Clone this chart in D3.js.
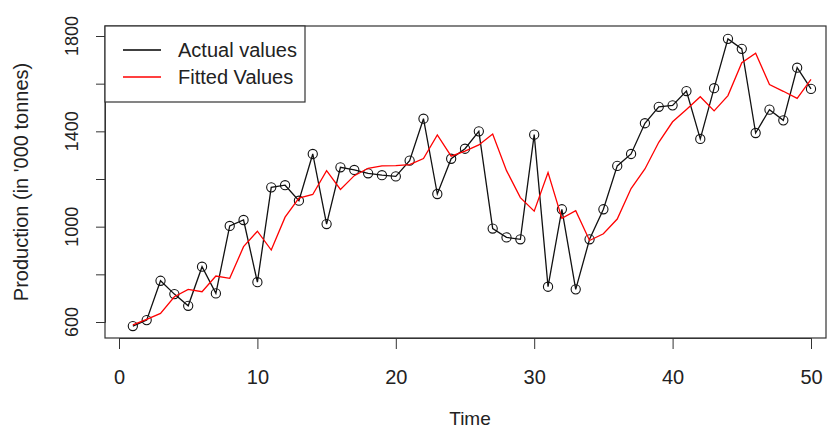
<!DOCTYPE html>
<html>
<head>
<meta charset="utf-8">
<script src="https://cdn.jsdelivr.net/npm/d3@7"></script>
<style>
  body { margin: 0; background: #fff; }
  text { font-family: "Liberation Sans", Arial, sans-serif; fill: #222; }
</style>
</head>
<body>
<svg id="chart" width="830" height="431"></svg>
<script>
// observed production, t = 1..50
const actual = [583, 608, 773, 717, 668, 832, 720, 1003, 1028, 767,
  1165, 1174, 1109, 1305, 1011, 1249, 1238, 1224, 1216, 1211,
  1277, 1453, 1137, 1285, 1327, 1400, 992, 955, 947, 1386,
  748, 1073, 737, 947, 1073, 1255, 1305, 1434, 1503, 1509,
  1569, 1368, 1581, 1788, 1746, 1393, 1491, 1446, 1667, 1578]

// fitted values
const fitted = [588, 611, 636, 706, 737, 727, 793, 783, 916, 981,
  902, 1040, 1120, 1135, 1235, 1156, 1214, 1245, 1255, 1256,
  1260, 1286, 1385, 1296, 1317, 1343, 1389, 1235, 1122, 1065,
  1227, 1035, 1067, 942, 970, 1032, 1160, 1242, 1354, 1440,
  1492, 1545, 1486, 1550, 1688, 1728, 1596, 1568, 1538, 1618]

const xTicks = [0, 10, 20, 30, 40, 50]
const yTicks = [600, 800, 1000, 1200, 1400, 1600, 1800]
const yLabels = [600, 1000, 1400, 1800]
const legendItems = [
  {name: "Actual values", color: "#000"},
  {name: "Fitted Values", color: "#ff0000"}
]

let svg = d3.select('#chart')

const box = {left: 105, right: 826, top: 26, bottom: 338}

let x = d3.scaleLinear()
  .domain([0, 50])
  .range([119, 811])

let y = d3.scaleLinear()
  .domain([600, 1800])
  .range([322, 36])

let line = d3.line()
  .x(d => x(d.t))
  .y(d => y(d.v))

// plot box
svg.append("rect")
  .attr("x", box.left)
  .attr("y", box.top)
  .attr("width", box.right - box.left)
  .attr("height", box.bottom - box.top)
  .attr("fill", "none")
  .attr("stroke", "#333")
  .attr("stroke-width", 1.2)

// x axis
let xAxis = svg.append("g")
  .attr("transform", `translate(0,${box.bottom})`)
  .call(d3.axisBottom(x).tickValues(xTicks).tickSize(11).tickPadding(21))
xAxis.select(".domain").attr("stroke", "#333")
xAxis.selectAll(".tick line").attr("stroke", "#333")
xAxis.selectAll("text")
  .attr("font-size", 20)
  .attr("fill", "#222")
  .attr("font-family", "Liberation Sans, Arial, sans-serif")

// y axis
let yAxis = svg.append("g")
  .attr("transform", `translate(${box.left},0)`)
  .call(d3.axisLeft(y).tickValues(yTicks).tickSize(9).tickFormat(""))
yAxis.select(".domain").attr("stroke", "#333")
yAxis.selectAll(".tick line").attr("stroke", "#333")

svg.append("g").selectAll("text")
  .data(yLabels)
  .join("text")
  .attr("transform", d => `translate(78,${y(d)}) rotate(-90)`)
  .attr("text-anchor", "middle")
  .attr("font-size", 18)
  .text(d => d)

// axis titles
svg.append("text")
  .attr("x", 470)
  .attr("y", 425)
  .attr("text-anchor", "middle")
  .attr("font-size", 19)
  .text("Time")

svg.append("text")
  .attr("transform", `translate(28,${(box.top + box.bottom) / 2}) rotate(-90)`)
  .attr("text-anchor", "middle")
  .attr("font-size", 20)
  .text("Production (in '000 tonnes)")

let actualData = actual.map((v, i) => ({t: i + 1, v: v}))
let fittedData = fitted.map((v, i) => ({t: i + 1, v: v}))

// actual series
svg.append("path")
  .datum(actualData)
  .attr("fill", "none")
  .attr("stroke", "#111")
  .attr("stroke-width", 1.3)
  .attr("d", line)

svg.append("g").selectAll("circle")
  .data(actualData)
  .join("circle")
  .attr("cx", d => x(d.t))
  .attr("cy", d => y(d.v))
  .attr("r", 4.6)
  .attr("fill", "none")
  .attr("stroke", "#111")
  .attr("stroke-width", 1.1)

// fitted series
svg.append("path")
  .datum(fittedData)
  .attr("fill", "none")
  .attr("stroke", "#ff0000")
  .attr("stroke-width", 1.3)
  .attr("d", line)

// legend
let legend = svg.append("g")
legend.append("rect")
  .attr("x", box.left)
  .attr("y", box.top)
  .attr("width", 200)
  .attr("height", 76)
  .attr("fill", "#fff")
  .attr("stroke", "#333")
  .attr("stroke-width", 1.2)

legendItems.forEach((d, i) => {
  let ly = 50 + i * 27
  legend.append("line")
    .attr("x1", 123).attr("x2", 161)
    .attr("y1", ly).attr("y2", ly)
    .attr("stroke", d.color)
    .attr("stroke-width", 1.3)
  legend.append("text")
    .attr("x", 178)
    .attr("y", ly + 7)
    .attr("font-size", 20)
    .text(d.name)
})
</script>
</body>
</html>
